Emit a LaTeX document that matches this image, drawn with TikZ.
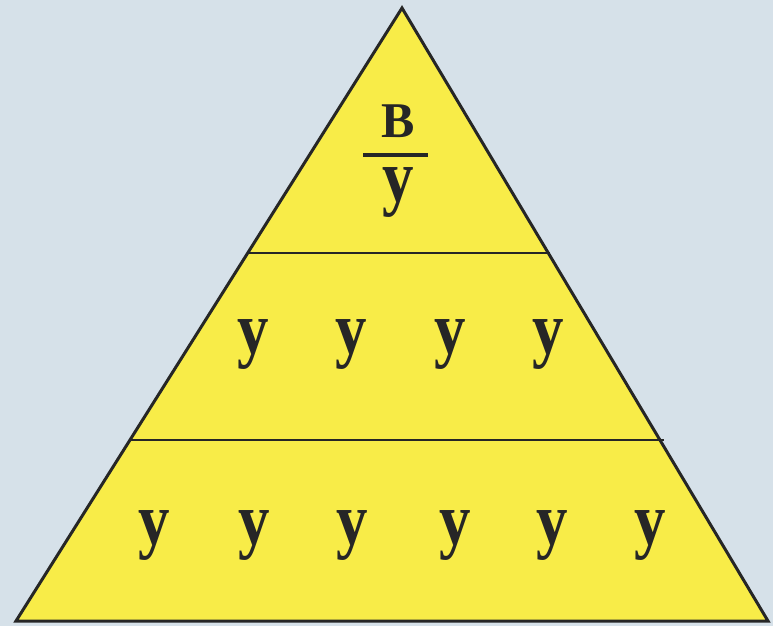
\documentclass[tikz,border=0pt]{standalone}
\usepackage{fontspec}
\setmainfont{Liberation Serif}
\definecolor{bg}{RGB}{214,225,233}
\definecolor{pyr}{RGB}{248,236,72}
\begin{document}
\begin{tikzpicture}[x=1pt,y=-1pt,
  lab/.style={inner sep=0pt,anchor=base,xscale=0.85,font=\fontsize{74}{80}\selectfont\bfseries,text=black!85},
  toplab/.style={inner sep=0pt,anchor=base,font=\fontsize{50}{56}\selectfont\bfseries,text=black!85},
  edge/.style={line width=3pt,black!85},
  divider/.style={line width=2.5pt,black!85}]
\fill[bg] (0,0) rectangle (773,626);
\useasboundingbox (0,0) rectangle (773,626);
\coordinate (apex) at (402,8);
\coordinate (bl) at (16,621);
\coordinate (br) at (768,621);
\fill[pyr] (apex) -- (bl) -- (br) -- cycle;
\coordinate (d1l) at (248,253);
\coordinate (d1r) at (550,253);
\coordinate (d2l) at (131,440);
\coordinate (d2r) at (664,440);
\draw[divider] (d1l) -- (d1r);
\draw[divider] (d2l) -- (d2r);
\draw[edge,line join=miter] (apex) -- (bl) -- (br) -- cycle;
\node[toplab] (B) at (398,137) {B};
\coordinate (fl) at (363,155);
\coordinate (fr) at (428,155);
\draw[line width=4pt,black!85] (fl) -- (fr);
\node[lab] (yt) at (398,201) {y};
\node[lab] (m1) at (253,353) {y};
\node[lab] (m2) at (351,353) {y};
\node[lab] (m3) at (450,353) {y};
\node[lab] (m4) at (548,353) {y};
\node[lab] (b1) at (154,544) {y};
\node[lab] (b2) at (254,544) {y};
\node[lab] (b3) at (352,544) {y};
\node[lab] (b4) at (455,544) {y};
\node[lab] (b5) at (552,544) {y};
\node[lab] (b6) at (650,544) {y};
\end{tikzpicture}
\end{document}
